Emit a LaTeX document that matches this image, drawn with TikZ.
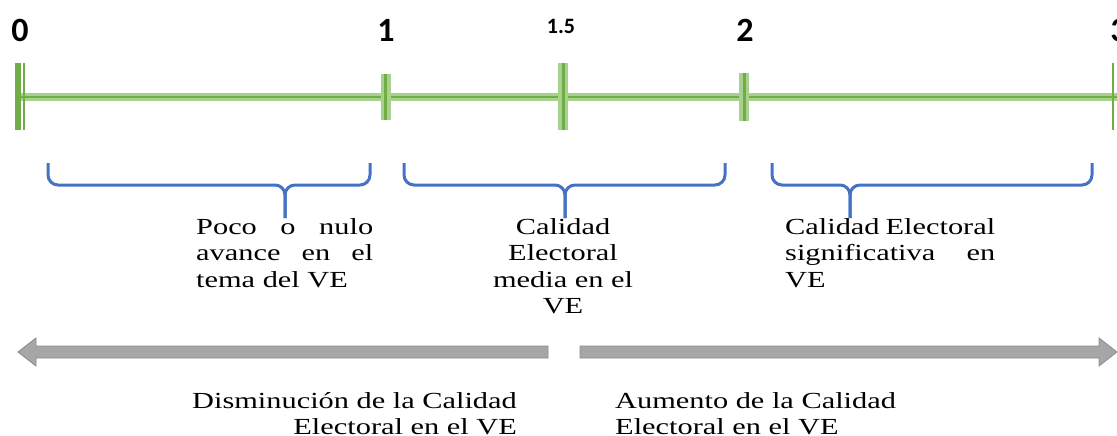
\documentclass[tikz,border=0pt]{standalone}
\usepackage{fontspec}
\setmainfont{Liberation Serif}[FakeStretch = 1.32]
\newfontfamily\numfont{Carlito}
\usepackage{xcolor}
\definecolor{linegreen}{HTML}{A9D18E}
\definecolor{darkgreen}{HTML}{70AD47}
\definecolor{braceblue}{HTML}{4472C4}
\definecolor{arrowgray}{HTML}{A6A6A6}
\definecolor{arrowedge}{HTML}{8C8C8C}

\tikzset{
  greenline/.style = {draw = linegreen, line width = 8pt, postaction = {draw = darkgreen, line width = 2.5pt}},
  greentick/.style = {draw = linegreen, line width = 10pt, postaction = {draw = darkgreen, line width = 3pt}},
  ticklabel/.style = {font = \numfont\bfseries\fontsize{34}{34}\selectfont, inner sep = 0pt},
  bracepath/.style = {draw = braceblue, line width = 3pt, rounded corners = 10pt},
  textblock/.style = {font = \fontsize{23}{26.5}\selectfont, inner sep = 0pt},
  grayarrow/.style = {fill = arrowgray, draw = arrowedge, line width = 0.8pt}
}

\begin{document}
\begin{tikzpicture}[x = 1pt, y = -1pt]
        \useasboundingbox (0, 0) rectangle (1117, 436);
        % Scale labels
        \node [ticklabel] (l0) at (20, 30) {0};
        \node [ticklabel] (l1) at (386, 30) {1};
        \node [ticklabel, font = \numfont\bfseries\fontsize{22}{22}\selectfont] (l15) at (561, 26) {1.5};
        \node [ticklabel] (l2) at (745, 30) {2};
        \node [ticklabel] (l3) at (1119, 30) {3};
        % Main line and ticks
        \coordinate (s) at (18, 97);
        \coordinate (e) at (1117, 97);
        \draw [greenline] (s) -- (e);
        \draw [darkgreen, line width = 6pt] (18, 63) -- (18, 130);
        \draw [darkgreen, line width = 1.8pt] (24, 63) -- (24, 130);
        \draw [greentick] (385.5, 74) -- (385.5, 120);
        \draw [greentick] (563, 63) -- (563, 130);
        \draw [greentick] (744, 73) -- (744, 121);
        \draw [darkgreen, line width = 2pt] (1113, 63) -- (1113, 130);
        % Braces
        \draw [bracepath] (48, 163) -- (48, 185) -- (285, 185) -- (285, 218);
        \draw [bracepath] (370, 163) -- (370, 185) -- (285, 185) -- (285, 218);
        \draw [bracepath] (404, 163) -- (404, 185) -- (565, 185) -- (565, 218);
        \draw [bracepath] (725, 163) -- (725, 185) -- (565, 185) -- (565, 218);
        \draw [bracepath] (772, 163) -- (772, 185) -- (850, 185) -- (850, 218);
        \draw [bracepath] (1092, 163) -- (1092, 185) -- (850, 185) -- (850, 218);
        % Texts under the braces
        \node [textblock, anchor = north west, align = left] (t1) at (196, 218)
          {\makebox[177pt][s]{Poco o nulo}\\\makebox[177pt][s]{avance en el}\\tema del VE};
        \node [textblock, anchor = north, align = center] (t2) at (563, 218)
          {Calidad\\Electoral\\media en el\\VE};
        \node [textblock, anchor = north west, align = left] (t3) at (785, 218)
          {\makebox[210pt][s]{Calidad Electoral}\\\makebox[210pt][s]{significativa en}\\VE};
        % Gray arrows
        \draw [grayarrow] (548, 346) -- (36, 346) -- (36, 338) -- (18, 352) -- (36, 366) -- (36, 358) -- (548, 358) -- cycle;
        \draw [grayarrow] (580, 346) -- (1099, 346) -- (1099, 338) -- (1117, 352) -- (1099, 366) -- (1099, 358) -- (580, 358) -- cycle;
        % Texts under the arrows
        \node [textblock, anchor = north east, align = right] (down) at (517, 392)
          {Disminución de la Calidad\\Electoral en el VE};
        \node [textblock, anchor = north west, align = left] (up) at (615, 392)
          {Aumento de la Calidad\\Electoral en el VE};
\end{tikzpicture}
\end{document}
